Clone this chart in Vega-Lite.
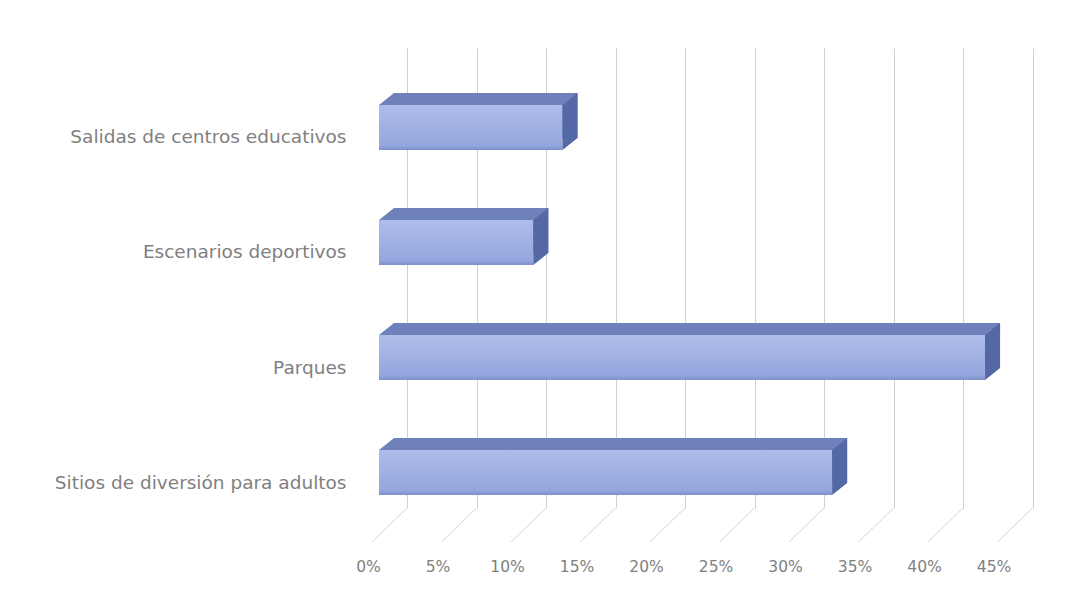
{
  "$schema": "https://vega.github.io/schema/vega-lite/v6.json",
  "width": 625.5,
  "height": 460,
  "autosize": {"type": "none"},
  "padding": {"left": 379, "top": 48, "right": 76.5, "bottom": 85},
  "background": "white",
  "config": {
    "view": {"stroke": null},
    "axisX": {
      "grid": true, "gridColor": "#d0d0d0", "gridWidth": 1,
      "domain": false, "ticks": false, "tickSize": 0,
      "tickOffset": 28, "labelOffset": -39, "labelPadding": 51, "labelFlush": false,
      "labelColor": "#7f7f7f", "labelFontSize": 15.5, "labelFont": "DejaVu Sans"
    },
    "axisY": {
      "grid": false, "domain": false, "ticks": false, "tickSize": 0,
      "labelPadding": 33, "labelOffset": 32, "labelLimit": 0,
      "labelColor": "#7f7f7f", "labelFontSize": 18.5, "labelFont": "DejaVu Sans"
    }
  },
  "datasets": {
    "bars": [
      {"lugar": "Salidas de centros educativos", "pct": 0.132},
      {"lugar": "Escenarios deportivos", "pct": 0.111},
      {"lugar": "Parques", "pct": 0.436},
      {"lugar": "Sitios de diversión para adultos", "pct": 0.326}
    ],
    "ticks": [
      {"v": 0}, {"v": 0.05}, {"v": 0.1}, {"v": 0.15}, {"v": 0.2},
      {"v": 0.25}, {"v": 0.3}, {"v": 0.35}, {"v": 0.4}, {"v": 0.45}
    ]
  },
  "layer": [
    {
      "data": {"name": "ticks"},
      "mark": {"type": "rule", "color": "#d4d4d4", "strokeWidth": 1, "xOffset": 28, "x2Offset": -7, "y2Offset": 34},
      "encoding": {
        "x": {"field": "v", "type": "quantitative", "scale": {"domain": [0, 0.45]}, "axis": {"title": null, "format": ".0%", "values": [0, 0.05, 0.1, 0.15, 0.2, 0.25, 0.3, 0.35, 0.4, 0.45]}},
        "x2": {"field": "v"},
        "y": {"value": "height"},
        "y2": {"value": "height"}
      }
    },
    {
      "data": {"name": "bars"},
      "layer": [
        {
          "mark": {"type": "bar", "color": "#6e81bb", "xOffset": 15, "x2Offset": 15, "yOffset": 10, "y2Offset": 10},
          "encoding": {
            "x": {"field": "pct", "type": "quantitative", "axis": {"title": null, "format": ".0%", "values": [0, 0.05, 0.1, 0.15, 0.2, 0.25, 0.3, 0.35, 0.4, 0.45]}},
            "y": {"field": "lugar", "type": "nominal", "sort": null, "scale": {"paddingInner": 0.609, "paddingOuter": 0.3043}, "axis": {"title": null}}
          }
        },
        {
          "mark": {"type": "point", "filled": true, "opacity": 1, "strokeWidth": 0, "color": "#6e81bb", "size": 6400, "yOffset": 22,
                   "shape": "M0,-0.5625L0.375,-0.8625L0.375,-0.5625Z"},
          "encoding": {
            "x": {"datum": 0, "type": "quantitative"},
            "y": {"field": "lugar", "type": "nominal", "sort": null, "axis": {"title": null}}
          }
        },
        {
          "mark": {"type": "bar", "yOffset": 22, "y2Offset": 22,
                   "color": {"gradient": "linear", "x1": 0, "y1": 0, "x2": 0, "y2": 1,
                             "stops": [{"offset": 0, "color": "#aebdea"}, {"offset": 0.9, "color": "#94a6dd"}, {"offset": 1, "color": "#7d90cc"}]}},
          "encoding": {
            "x": {"field": "pct", "type": "quantitative", "axis": {"title": null, "format": ".0%", "values": [0, 0.05, 0.1, 0.15, 0.2, 0.25, 0.3, 0.35, 0.4, 0.45]}},
            "y": {"field": "lugar", "type": "nominal", "sort": null, "axis": {"title": null}}
          }
        },
        {
          "mark": {"type": "point", "filled": true, "opacity": 1, "strokeWidth": 0, "color": "#5468a6", "size": 6400, "yOffset": 22,
                   "shape": "M0,-0.5625L0.375,-0.8625L0.375,0.2625L0,0.5625Z"},
          "encoding": {
            "x": {"field": "pct", "type": "quantitative", "axis": {"title": null, "format": ".0%", "values": [0, 0.05, 0.1, 0.15, 0.2, 0.25, 0.3, 0.35, 0.4, 0.45]}},
            "y": {"field": "lugar", "type": "nominal", "sort": null, "axis": {"title": null}}
          }
        }
      ]
    }
  ]
}
